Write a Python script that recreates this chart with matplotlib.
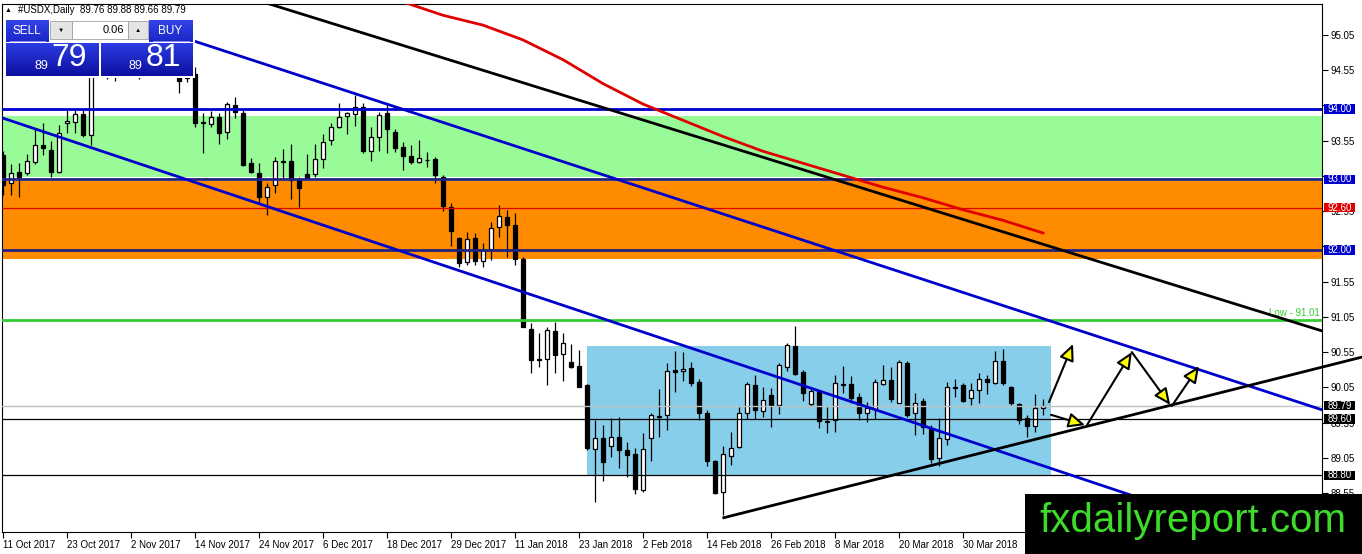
import numpy as np
import matplotlib
matplotlib.use("Agg")
import matplotlib.pyplot as plt
from matplotlib.patches import Rectangle
from matplotlib.transforms import blended_transform_factory
from matplotlib.colors import to_rgb

plt.rcParams["font.family"] = ["Liberation Sans", "DejaVu Sans"]

# ---- data -----------------------------------------------------------
date_labels = ["11 Oct 2017", "23 Oct 2017", "2 Nov 2017", "14 Nov 2017",
               "24 Nov 2017", "6 Dec 2017", "18 Dec 2017", "29 Dec 2017",
               "11 Jan 2018", "23 Jan 2018", "2 Feb 2018", "14 Feb 2018",
               "26 Feb 2018", "8 Mar 2018", "20 Mar 2018", "30 Mar 2018"]

opens = [93.35, 92.95, 93.11, 93.09, 93.25, 93.49, 93.42, 93.11, 93.80, 93.82,
         93.93, 93.63, 94.55, 94.85, 94.55, 94.60, 94.75, 94.80, 94.90, 94.85,
         94.95, 94.90, 94.65, 94.44, 94.50, 93.80, 93.79, 93.89, 93.67, 94.06,
         93.94, 93.23, 93.09, 92.75, 92.92, 93.26, 93.26, 93.00, 93.08, 93.08,
         93.29, 93.56, 93.74, 93.90, 93.93, 94.03, 93.40, 93.60, 93.95, 93.67,
         93.46, 93.33, 93.25, 93.27, 93.29, 93.03, 92.61, 92.17, 91.83, 92.17,
         91.84, 92.01, 92.33, 92.47, 92.35, 91.87, 90.88, 90.44, 90.45, 90.85,
         90.52, 90.41, 90.35, 90.08, 89.17, 89.33, 89.22, 89.35, 89.16, 89.11,
         88.59, 89.33, 89.63, 89.66, 90.30, 90.28, 90.33, 90.12, 89.69, 89.00,
         88.57, 89.08, 89.21, 89.69, 90.09, 89.72, 89.94, 89.80, 90.34, 90.64,
         90.27, 89.81, 89.99, 89.57, 89.59, 90.09, 90.10, 89.91, 89.69, 89.74,
         90.10, 90.16, 89.83, 90.40, 89.69, 89.85, 89.46, 89.05, 89.32, 90.04,
         90.08, 89.90, 90.01, 90.17, 90.11, 90.42, 90.05, 89.81, 89.61, 89.50,
         89.76]
highs = [93.40, 93.22, 93.23, 93.36, 93.72, 93.80, 93.55, 93.77, 93.99, 93.99,
         94.00, 94.70, 95.15, 94.90, 94.75, 94.90, 94.95, 95.05, 95.00, 95.10,
         95.00, 94.95, 94.70, 94.60, 94.60, 93.94, 93.97, 93.94, 94.10, 94.17,
         93.99, 93.30, 93.23, 92.95, 93.32, 93.43, 93.50, 93.04, 93.36, 93.50,
         93.65, 93.80, 94.09, 93.96, 94.20, 94.09, 93.74, 93.96, 94.09, 93.72,
         93.53, 93.49, 93.56, 93.39, 93.32, 93.06, 92.67, 92.18, 92.26, 92.24,
         92.10, 92.40, 92.64, 92.57, 92.52, 91.90, 90.96, 90.82, 90.91, 90.98,
         90.82, 90.67, 90.58, 90.10, 89.59, 89.51, 89.61, 89.63, 89.27, 89.19,
         89.40, 89.69, 90.03, 90.40, 90.57, 90.55, 90.41, 90.17, 89.73, 89.02,
         89.22, 89.42, 89.77, 90.13, 90.23, 90.05, 90.04, 90.40, 90.68, 90.92,
         90.30, 90.04, 90.01, 89.77, 90.23, 90.35, 90.21, 89.97, 89.84, 90.17,
         90.37, 90.34, 90.44, 90.43, 89.97, 89.90, 89.52, 89.61, 90.12, 90.17,
         90.11, 90.11, 90.25, 90.23, 90.57, 90.60, 90.07, 89.83, 89.66, 89.96,
         89.88]
lows = [92.78, 92.78, 92.75, 93.06, 93.22, 93.35, 93.04, 93.09, 93.66, 93.66,
        93.60, 93.49, 94.45, 94.42, 94.40, 94.50, 94.45, 94.42, 94.60, 94.70,
        94.70, 94.45, 94.22, 94.38, 93.75, 93.37, 93.75, 93.50, 93.57, 93.87,
        93.19, 93.09, 92.67, 92.49, 92.81, 92.99, 92.72, 92.61, 93.00, 93.03,
        93.16, 93.49, 93.73, 93.64, 93.76, 93.37, 93.26, 93.40, 93.38, 93.39,
        93.13, 93.22, 93.23, 93.18, 92.95, 92.55, 92.06, 91.76, 91.78, 91.78,
        91.76, 91.86, 92.18, 91.90, 91.79, 90.90, 90.25, 90.34, 90.08, 90.25,
        90.14, 90.33, 90.05, 89.16, 88.42, 88.72, 89.06, 88.90, 88.78, 88.54,
        88.57, 89.00, 89.34, 89.44, 89.98, 90.14, 90.07, 89.59, 88.93, 88.53,
        88.24, 88.95, 89.19, 89.60, 89.60, 89.63, 89.49, 89.67, 90.28, 90.23,
        89.86, 89.79, 89.47, 89.40, 89.42, 89.97, 89.83, 89.59, 89.56, 89.60,
        90.08, 89.84, 89.83, 89.63, 89.38, 89.39, 88.98, 88.93, 89.23, 89.91,
        89.84, 89.80, 89.83, 89.95, 90.10, 90.08, 89.80, 89.53, 89.34, 89.42,
        89.66]
closes = [92.92, 93.09, 93.04, 93.26, 93.49, 93.44, 93.11, 93.66, 93.83, 93.93,
          93.63, 94.55, 94.85, 94.55, 94.60, 94.75, 94.80, 94.90, 94.85, 94.95,
          94.90, 94.65, 94.40, 94.45, 93.80, 93.81, 93.89, 93.66, 94.07, 93.96,
          93.21, 93.10, 92.75, 92.89, 93.26, 93.25, 92.99, 92.88, 93.02, 93.29,
          93.53, 93.74, 93.89, 93.94, 94.03, 93.40, 93.60, 93.92, 93.72, 93.45,
          93.33, 93.25, 93.31, 93.28, 93.06, 92.62, 92.27, 91.81, 92.16, 91.84,
          92.00, 92.31, 92.48, 92.35, 91.87, 90.91, 90.44, 90.45, 90.86, 90.51,
          90.68, 90.34, 90.06, 89.19, 89.33, 88.99, 89.35, 89.16, 89.09, 88.61,
          89.17, 89.66, 89.65, 90.28, 90.27, 90.31, 90.11, 89.69, 89.00, 88.55,
          89.11, 89.19, 89.69, 90.10, 89.73, 89.87, 89.80, 90.37, 90.65, 90.24,
          89.97, 90.00, 89.57, 89.56, 90.11, 90.10, 89.90, 89.69, 89.76, 90.13,
          90.16, 89.88, 90.41, 89.66, 89.83, 89.49, 89.03, 89.33, 90.05, 90.06,
          89.85, 90.01, 90.17, 90.12, 90.42, 90.11, 89.83, 89.59, 89.50, 89.76,
          89.79]

# moving average (red curve)
ma_bars = [50, 55, 60, 65, 70, 75, 80, 85, 90, 95, 100, 105, 110, 115, 120, 125, 130]
ma_vals = [95.52, 95.33, 95.19, 94.98, 94.70, 94.36, 94.07, 93.84, 93.61,
           93.40, 93.23, 93.06, 92.89, 92.74, 92.57, 92.42, 92.24]

# horizontal levels
blue_levels = [94.00, 93.00, 92.00]
red_level = 92.60
low_level = 91.01
bid_level = 89.79
black_levels = [89.60, 88.80]
green_zone = [93.04, 93.90]
orange_zone = [91.87, 92.98]
range_bars = [73, 131]
range_prices = [88.80, 90.64]

# trend lines: (bar, price) anchor points
upper_black = [(32.75, 95.51), (164.9, 90.85)]
upper_blue = [(24.0, 94.96), (164.9, 89.73)]
lower_blue = [(0.0, 93.87), (143.9, 88.41)]
rising_black = [(90.1, 88.20), (169.9, 90.48)]

# projected path arrows
arrow_paths = [((130.75, 89.84), (133.75, 90.665)),
               ((131.0, 89.66), (135.25, 89.515)),
               ((135.5, 89.515), (141.1, 90.55)),
               ((141.1, 90.55), (145.9, 89.80)),
               ((146.1, 89.785), (149.5, 90.35))]

# ---- figure ---------------------------------------------------------
W, H = 1362, 554
fig = plt.figure(figsize=(W / 100, H / 100), dpi=100)
ax = fig.add_axes([2 / W, 22 / H, 1320 / W, 528 / H])
ax.set_xlim(-0.125, 164.875)
ax.set_ylim(87.997, 95.49)

o, h, l, c = map(np.array, (opens, highs, lows, closes))
x = np.arange(len(o))
up = c >= o

# zones and range box
ax.axhspan(*green_zone, color="#98FB98", lw=0, zorder=0.5)
ax.axhspan(*orange_zone, color="#FF8C00", lw=0, zorder=0.5)
ax.add_patch(Rectangle((range_bars[0], range_prices[0]),
                       range_bars[1] - range_bars[0],
                       range_prices[1] - range_prices[0],
                       fc="#87CEEB", ec="none", zorder=0.6))

# candles
ax.vlines(x, l, h, color="black", lw=0.9, zorder=2)
body_lo = np.minimum(o, c)
body_h = np.maximum(np.abs(c - o), 0.004)
ax.bar(x[up], body_h[up], 0.6, bottom=body_lo[up], color="white",
       edgecolor="black", lw=0.9, zorder=3)
ax.bar(x[~up], body_h[~up], 0.6, bottom=body_lo[~up], color="black",
       edgecolor="black", lw=0.9, zorder=3)

# horizontal lines
ax.axhline(blue_levels[0], color="#0000CC", lw=2, zorder=4)
for lv in blue_levels[1:]:
    ax.axhline(lv, color="#22227F", lw=2, zorder=4)
ax.axhline(red_level, color="#E00000", lw=0.9, zorder=4)
ax.axhline(low_level, color="#33CC33", lw=2, zorder=4)
ax.axhline(bid_level, color="#C0C0C0", lw=1, zorder=4)
for lv in black_levels:
    ax.axhline(lv, color="black", lw=0.9, zorder=4)
ax.text(164.6, low_level + 0.02, "Low - 91.01", color="#33CC33",
        fontsize=7, ha="right", va="bottom", zorder=5)

# moving average
ax.plot(ma_bars, ma_vals, color="#E00000", lw=2, zorder=5)


def extend(pts, x0, x1):
    (xa, ya), (xb, yb) = pts
    k = (yb - ya) / (xb - xa)
    return [x0, x1], [ya + k * (x0 - xa), ya + k * (x1 - xa)]


ax.plot(*extend(upper_black, 28, 164.9), color="black", lw=2, zorder=5)
ax.plot(*extend(upper_blue, 22, 164.9), color="#0000CC", lw=2, zorder=5)
ax.plot(*extend(lower_blue, -1, 150), color="#0000CC", lw=2, zorder=5)
ax.plot(*extend(rising_black, 90.1, 169.9), color="black", lw=2,
        zorder=5, clip_on=False)

for (p0, p1) in arrow_paths:
    ax.annotate("", xy=p1, xytext=p0,
                arrowprops=dict(arrowstyle="-|>,head_length=1.1,head_width=0.5",
                                fc="yellow", ec="black", lw=1.5,
                                shrinkA=0, shrinkB=0, mutation_scale=9),
                zorder=6)

# axes styling
for sp in ax.spines.values():
    sp.set_color("black")
    sp.set_linewidth(0.8)
ax.yaxis.tick_right()
yt = np.arange(88.55, 95.1, 0.5)
hidden = {94.05, 93.05, 92.05}
ax.set_yticks(yt)
ax.set_yticklabels(["" if round(v, 2) in hidden else f"{v:.2f}" for v in yt])
ax.set_xticks(range(0, 8 * len(date_labels), 8))
ax.set_xticklabels(date_labels, ha="left")
ax.tick_params(axis="both", labelsize=7, length=4, width=0.8, pad=2,
               colors="black")

# right-side level tags
tr = blended_transform_factory(ax.transAxes, ax.transData)
tag_w = 31 / 1320
tags = [(94.00, "#0000CC"), (93.00, "#0000CC"), (92.60, "#E00000"),
        (92.00, "#0000CC"), (89.79, "black"), (89.60, "black"), (88.80, "black")]
for val, col in tags:
    ax.add_patch(Rectangle((1.0015, val - 0.066), tag_w, 0.132, transform=tr,
                           fc=col, ec="none", clip_on=False, zorder=7))
    ax.text(1.0015 + tag_w / 2, val, f"{val:.2f}", transform=tr, fontsize=7,
            color="white", ha="center", va="center", zorder=8)

# ---- overlay: title, trade panel, watermark --------------------------
ov = fig.add_axes([0, 0, 1, 1], zorder=10)
ov.set_autoscale_on(False)
ov.set_xlim(0, W)
ov.set_ylim(H, 0)
ov.axis("off")
ov.patch.set_visible(False)

ov.text(5, 10, "\u25B2", fontsize=5, va="center", ha="left")
ov.text(18, 10, "#USDX,Daily  89.76 89.88 89.66 89.79", fontsize=7,
        va="center", ha="left")


def grad_box(x0, y0, x1, y1, c_top="#2B3CE2", c_bot="#0E0FA0"):
    t = np.linspace(0, 1, 32)[:, None, None]
    arr = (1 - t) * np.array(to_rgb(c_top)) + t * np.array(to_rgb(c_bot))
    ov.imshow(arr, extent=(x0, x1, y1, y0), aspect="auto",
              interpolation="bilinear", zorder=1)


ov.add_patch(Rectangle((4, 18), 191, 60, fc="white", ec="none", zorder=0.5))
grad_box(6, 20, 49, 42, "#3344E6", "#1A26C8")
grad_box(149, 20, 193, 42, "#3344E6", "#1A26C8")
grad_box(6, 43, 99, 76)
grad_box(101, 43, 193, 76)
ov.add_patch(Rectangle((50, 21), 22, 18, fc="#E4E4E4", ec="#A0A0A0", lw=0.6, zorder=2))
ov.add_patch(Rectangle((72, 21), 56, 18, fc="white", ec="#A0A0A0", lw=0.6, zorder=2))
ov.add_patch(Rectangle((128, 21), 20, 18, fc="#E4E4E4", ec="#A0A0A0", lw=0.6, zorder=2))
ov.plot([10, 45], [40.5, 40.5], color="#8A94F0", lw=0.7, zorder=3)
ov.plot([153, 189], [40.5, 40.5], color="#8A94F0", lw=0.7, zorder=3)
ov.text(61, 30, "\u25BC", fontsize=4.5, ha="center", va="center", zorder=3)
ov.text(138, 30, "\u25B2", fontsize=4.5, ha="center", va="center", zorder=3)
ov.text(124, 30, "0.06", fontsize=8, ha="right", va="center", zorder=3)
ov.text(27, 31, "SELL", fontsize=8.5, color="white", ha="center", va="center", zorder=3)
ov.text(170, 31, "BUY", fontsize=8.5, color="white", ha="center", va="center", zorder=3)
ov.text(41, 66, "89", fontsize=9, color="white", ha="center", va="center", zorder=3)
ov.text(69, 58, "79", fontsize=23, color="white", ha="center", va="center", zorder=3)
ov.text(135, 66, "89", fontsize=9, color="white", ha="center", va="center", zorder=3)
ov.text(163, 58, "81", fontsize=23, color="white", ha="center", va="center", zorder=3)

ov.add_patch(Rectangle((1025, 494), 337, 60, fc="black", ec="none", zorder=1))
ov.text(1193, 521, "fxdailyreport.com", fontsize=29, color="#3EDB2A",
        ha="center", va="center", zorder=2)

fig.savefig("out.png", dpi=100)
